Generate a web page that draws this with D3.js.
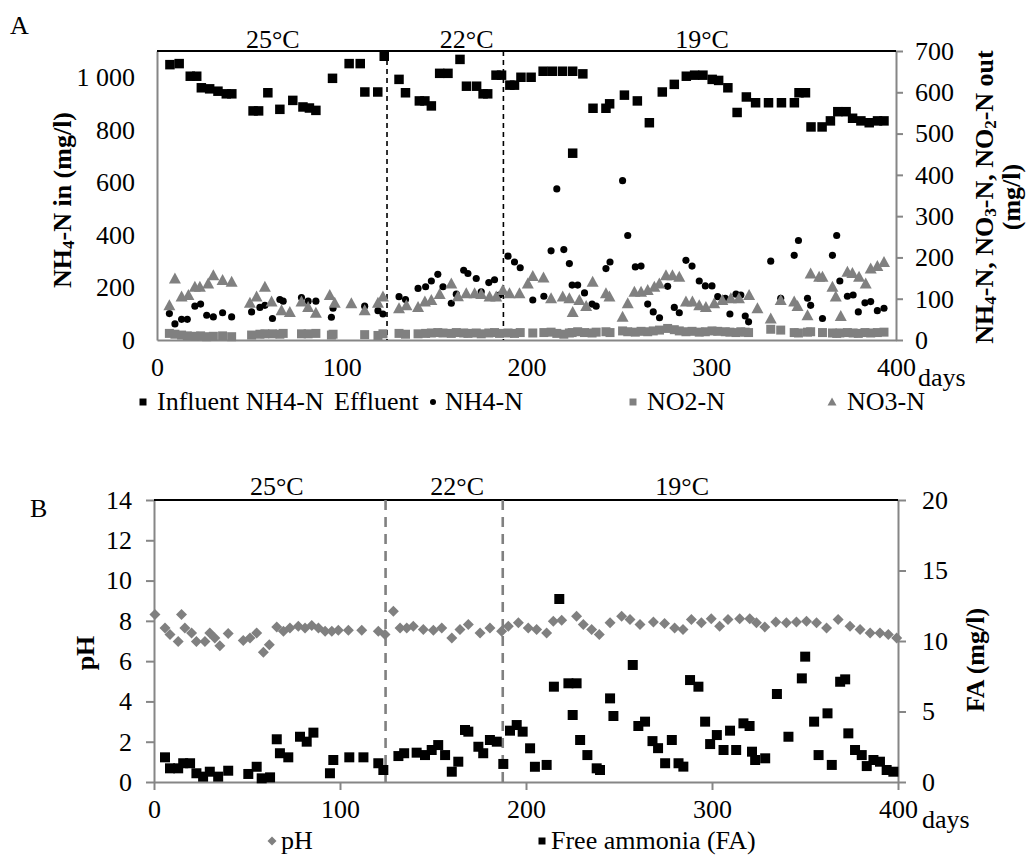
<!DOCTYPE html>
<html>
<head>
<meta charset="utf-8">
<script src="https://cdn.jsdelivr.net/npm/d3@7"></script>
<style>
  body { margin: 0; background: #fff; }
  text { font-family: "Liberation Serif", "Times New Roman", serif; fill: #000; }
</style>
</head>
<body>
<svg id="chart" width="1030" height="859"></svg>
<script>
// ---------- Panel A: nitrogen species (mg/l) ----------
const inflDays = [7,12,18,21.5,24,28.5,33,37.5,40.5,52,55,60,66.5,73.5,79,82.5,86,95,104,110,112.5,119.5,123,131,134.5,142,145,148.5,153,157.5,164,167.5,173,176.5,179,183.5,186.5,191,193.5,197,202.5,209,214,219.5,225,230.5,225,236,243,245,253,260,266.5,273.5,280,286.5,291,295.5,300.5,304,309,314,319,324,331,338,345,347.5,351,354,360,364.5,368.5,373,376.5,381,385.5,390,393.5];
const inflValues = [1048,1052,1004,1004,960,956,947,937,937,872,872,941,878,912,887,883,874,996,1052,1052,944,944,1080,992,941,910,910,891,1015,1015,1068,966,966,937,937,1008,1008,970,970,1000,1000,1023,1023,1023,1023,1013,711,882,882,899,932,910,827,944,973,1004,1008,1008,992,988,960,866,925,903,903,903,903,941,941,811,811,834,869,869,844,834,827,834,834];

const effDays = [6.7,9.7,13.3,16.4,20.5,23.6,26.9,30.5,35.5,40.4,51.2,55.7,58.4,62.5,66.5,68.3,78.2,81.8,86,94.4,95.3,112.4,119.6,122.3,131,134.5,141.3,145.4,148.5,152,154.8,159.3,162,166,168.3,172.8,175.5,179.6,182.7,185.4,190,193.5,196.6,203.4,209.4,213.3,216.4,220.2,223.2,224.7,227.7,231.4,235.5,237.7,243,245.2,252,254.8,258.9,262,265.6,268.6,272,276.4,280,282.7,286.3,289.6,293.5,296.8,300.4,303.5,307.6,310.1,313.4,316,318.4,320.2,332.2,337.6,344.9,347.2,352.1,353.8,360.2,365.6,367.9,369.6,373.7,376.8,379.6,383.2,386.3,389.9,393.5];
const effValues = [64,39,50,50,82,87,60,56,66,56,68,79,84,52,98,94,103,94,94,55,77,82,71,63,105,98,125,129,143,159,129,89,111,169,161,149,117,139,146,109,203,189,175,97,106,216,366,219,185,133,133,114,87,82,173,189,386,253,177,179,87,68,54,130,79,66,193,179,143,131,131,105,101,63,111,109,58,44,191,101,205,241,101,84,52,205,253,143,106,109,68,90,93,71,77];

// NO2-N sampled on the same days as the effluent NH4-N
const no2Values = [16,14,12,10,9,10,8,9,10,8,12,14,15,15,14,16,15,15,16,12,14,13,11,15,16,14,15,16,17,18,17,16,18,17,16,17,15,17,18,16,17,16,18,17,18,19,16,14,17,18,20,18,17,19,20,18,22,20,19,21,20,22,24,28,25,22,20,21,19,20,22,21,20,19,18,20,19,18,26,24,18,17,19,20,18,17,16,17,18,17,16,18,17,18,19];

const no3Days = [6.7,9.7,13.3,17,20.5,23.2,27.7,30.5,35.5,40.4,50.3,53.9,58.4,62,67.4,71.9,78.2,81.8,86,93.5,96.2,105.2,112.4,119.6,122.3,131,135,141.3,145,148.5,153,159.3,162.9,167.4,171.9,175.5,180,183.6,187.2,190.8,196.2,200.7,203.4,209.2,213.3,219.6,223.2,225,228.6,232.3,235.8,243,244.9,252,254.8,258.4,262,265.6,269.2,271.9,275.5,279,282.7,286.3,289.8,293.5,297.1,301.6,306,310.6,315,320.5,325,332.2,337.6,344.9,346.7,352.1,353.8,358.4,360.2,365.6,367.4,370.1,373.7,376.4,380,383.6,386.3,389.9,393.5];
const no3Values = [84,149,105,109,129,129,137,157,145,141,90,105,129,93,72,68,93,80,66,109,90,89,72,90,105,77,84,80,93,97,111,137,106,113,113,111,105,105,121,113,113,137,155,151,101,105,101,68,97,82,141,113,105,56,89,117,117,121,129,137,157,157,153,93,93,84,80,89,97,101,101,109,77,52,97,93,82,60,161,153,153,129,105,58,165,162,153,137,173,179,189];

// ---------- Panel B: pH and free ammonia ----------
const phDays = [0.5,5.9,8.6,13,14.8,16.6,20.2,22.8,27.4,30,32.7,35.4,39.9,48,51.6,55.2,58.8,62,66,69.6,73.1,77.6,81.2,84.8,88.4,92,95.6,99.1,104.5,111.7,120.6,124.2,128.7,132.3,135.9,139.4,144.8,150.2,154.7,160.1,164.5,169,175.3,180.6,186.9,190.5,195.9,201.2,205.7,211.1,214.7,219.2,227.2,230.8,235.3,239.4,245.2,251.4,255.9,261.3,268.5,274.5,279.9,284.4,288.9,294.3,299.6,304.1,308.6,314.9,320.3,323.9,328.4,334.3,340,345.4,350.8,356.2,361.6,367.8,374.2,379.6,385,390.3,394.8,399.3];
const phValues = [8.32,7.65,7.32,6.98,8.32,7.65,7.40,6.98,6.98,7.40,7.15,6.77,7.37,7.03,7.15,7.40,6.44,6.82,7.70,7.48,7.65,7.73,7.65,7.77,7.65,7.48,7.48,7.53,7.53,7.53,7.48,7.32,8.48,7.65,7.65,7.73,7.57,7.53,7.65,7.15,7.57,7.82,7.40,7.65,7.48,7.73,7.90,7.65,7.57,7.40,7.98,8.03,8.23,7.82,7.57,7.32,7.90,8.23,8.07,7.82,7.94,7.87,7.65,7.57,8.07,7.90,8.10,7.73,8.07,8.10,8.10,7.90,7.70,7.94,7.90,7.94,7.98,7.90,7.65,8.07,7.73,7.57,7.40,7.40,7.32,7.15];

const faDays = [5.9,8.6,13,15.7,19.4,22.8,26.4,30,34.5,39.9,50.7,55.2,57.9,62.4,66,67.7,72.2,78.5,82.1,85.7,94.6,96.4,105,112.6,120.6,123.3,131.4,134.5,141.2,145.7,149.3,152.8,156.5,160.1,163.6,167.2,169,174.4,177,180.6,184.3,187.8,191.4,195,198.2,202.2,204.8,211.1,215,217.9,222.8,225.1,227.2,229.1,233,238,239.8,245.2,247,257.4,260.4,264,268,271,274.8,278.4,282,284.6,288.2,292.7,296.3,299,302.6,306.2,309.7,313,316.9,320.2,321.5,323.2,328.6,334.9,341.1,348.3,350.1,354.9,357.3,362.1,364.4,368.9,371.6,373.3,376.9,380.5,383.2,386.8,390.3,393.9,397.5];
const faValues = [1.75,0.97,0.97,1.33,1.33,0.62,0.38,0.73,0.38,0.80,0.57,1.08,0.26,0.33,3.03,2.04,1.75,3.21,2.86,3.50,0.62,1.56,1.75,1.75,1.33,0.85,1.84,2.04,2.08,1.91,2.27,2.62,1.91,0.73,1.44,3.69,3.57,2.50,2.04,2.98,2.86,1.28,3.64,4.04,3.57,2.39,1.08,1.21,6.76,12.98,7.0,4.75,7.0,2.98,1.91,0.97,0.85,5.93,4.68,8.30,3.97,4.28,2.9,2.4,1.33,2.98,1.33,1.09,7.23,6.76,4.28,2.69,3.33,2.27,3.64,2.27,4.16,3.97,2.15,1.56,1.68,6.24,3.21,7.35,8.89,4.28,1.91,4.87,1.21,7.11,7.28,3.45,2.27,1.91,1.13,1.56,1.44,0.85,0.73];

// Temperature periods (change days) and labels
const tempChangeDays = [124.5, 187.5];
const tempLabels = ["25°C", "22°C", "19°C"];

// Axis ticks
const dayTicks = [0, 100, 200, 300, 400];
const inTicks = [0, 200, 400, 600, 800, 1000];
const outTicks = [0, 100, 200, 300, 400, 500, 600, 700];
const phTicks = [0, 2, 4, 6, 8, 10, 12, 14];
const faTicks = [0, 5, 10, 15, 20];

// ---------- drawing ----------
const GRAY = "#808080";
const AXIS = "#868686";
const FS = 26;
const svg = d3.select("#chart");

const pairs = (xs, ys) => xs.map((d, i) => [d, ys[i]]);
const spaceFmt = d3.formatLocale({decimal: ".", thousands: "\u00a0", grouping: [3], currency: ["", ""]}).format(",");

function styleAxis(g) {
  g.attr("font-size", FS).attr("font-family", null);
  g.select(".domain").attr("stroke", AXIS).attr("stroke-width", 2);
  g.selectAll(".tick line").attr("stroke", AXIS).attr("stroke-width", 2);
  g.selectAll(".tick text").attr("fill", "#000");
}

function richText(parent, x, y, parts, opts = {}) {
  const t = parent.append("text")
    .attr("font-size", FS)
    .attr("font-weight", opts.bold ? "bold" : null)
    .attr("text-anchor", opts.anchor || "start")
    .attr("transform", `translate(${x},${y})` + (opts.rotate ? ` rotate(${opts.rotate})` : ""));
  if (opts.central) t.attr("dominant-baseline", "central");
  let shifted = false;
  parts.forEach(([s, sub]) => {
    const sp = t.append("tspan").text(s);
    if (sub) { sp.attr("font-size", 17).attr("dy", 6); shifted = true; }
    else if (shifted) { sp.attr("dy", -6); shifted = false; }
  });
  return t;
}

const squarePath = s => `M${-s/2},${-s/2}h${s}v${s}h${-s}Z`;
const diamondPath = (w, h) => `M0,${-h}L${w},0L0,${h}L${-w},0Z`;
const trianglePath = (w, h) => `M0,${-h*0.55}L${w/2},${h*0.45}L${-w/2},${h*0.45}Z`;

function drawMarks(g, data, x, y, path, fill) {
  g.append("g").selectAll("path").data(data).join("path")
    .attr("d", path)
    .attr("transform", d => `translate(${x(d[0])},${y(d[1])})`)
    .attr("fill", fill);
}

// ===== Panel A =====
const A = {left: 157, right: 896, top: 51, bottom: 340};
const xA = d3.scaleLinear().domain([0, 400]).range([A.left, A.right]);
const yAL = d3.scaleLinear().domain([0, 1100]).range([A.bottom, A.top]);
const yAR = d3.scaleLinear().domain([0, 700]).range([A.bottom, A.top]);
const gA = svg.append("g");

gA.append("g").attr("transform", `translate(${A.left},0)`)
  .call(d3.axisLeft(yAL).tickValues(inTicks).tickSize(0).tickPadding(22).tickFormat(spaceFmt))
  .call(styleAxis);
gA.append("g").attr("transform", `translate(${A.right},0)`)
  .call(d3.axisRight(yAR).tickValues(outTicks).tickSize(7).tickSizeOuter(0).tickPadding(12))
  .call(styleAxis);
gA.append("g").attr("transform", `translate(0,${A.bottom})`)
  .call(d3.axisBottom(xA).tickValues(dayTicks).tickSize(0).tickPadding(18))
  .call(styleAxis);
gA.append("line").attr("x1", A.left).attr("x2", A.right).attr("y1", A.top).attr("y2", A.top)
  .attr("stroke", "#000").attr("stroke-width", 2);

gA.selectAll(".tchg").data(tempChangeDays).join("line")
  .attr("x1", d => xA(d)).attr("x2", d => xA(d)).attr("y1", A.top).attr("y2", A.bottom)
  .attr("stroke", "#000").attr("stroke-width", 1.6).attr("stroke-dasharray", "5,4");

const labelDaysA = [62.7, 167.6, 295];
gA.selectAll(".tl").data(tempLabels).join("text")
  .attr("x", (d, i) => xA(labelDaysA[i])).attr("y", 48)
  .attr("text-anchor", "middle").attr("font-size", FS).text(d => d);

drawMarks(gA, pairs(inflDays, inflValues), xA, yAL, squarePath(9.5), "#000");
drawMarks(gA, pairs(effDays, effValues), xA, yAR, d3.symbol(d3.symbolCircle, 40)(), "#000");
drawMarks(gA, pairs(effDays, no2Values), xA, yAR, squarePath(9), GRAY);
drawMarks(gA, pairs(no3Days, no3Values), xA, yAR, trianglePath(12, 11), GRAY);

// axis titles
richText(gA, 62, 200, [["NH"], ["4", true], ["-N in (mg/l)"]], {bold: true, anchor: "middle", rotate: -90, central: true});
richText(gA, 984, 197, [["NH"], ["4", true], ["-N, NO"], ["3", true], ["-N, NO"], ["2", true], ["-N out"]], {bold: true, anchor: "middle", rotate: -90, central: true});
richText(gA, 1011, 197, [["(mg/l)"]], {bold: true, anchor: "middle", rotate: -90, central: true});

gA.append("text").attr("x", 10).attr("y", 34).attr("font-size", FS).text("A");
gA.append("text").attr("x", 918).attr("y", 386).attr("font-size", FS).text("days");

// legend A
const legA = gA.append("g");
const lyA = 402;
legA.append("path").attr("d", squarePath(7)).attr("transform", `translate(143,${lyA})`).attr("fill", "#000");
legA.append("text").attr("x", 157).attr("y", lyA + 8).attr("font-size", FS).text("Influent NH4-N");
legA.append("text").attr("x", 334).attr("y", lyA + 8).attr("font-size", FS).text("Effluent");
legA.append("circle").attr("cx", 433).attr("cy", lyA).attr("r", 3).attr("fill", "#000");
legA.append("text").attr("x", 445).attr("y", lyA + 8).attr("font-size", FS).text("NH4-N");
legA.append("path").attr("d", squarePath(7)).attr("transform", `translate(633,${lyA})`).attr("fill", GRAY);
legA.append("text").attr("x", 647).attr("y", lyA + 8).attr("font-size", FS).text("NO2-N");
legA.append("path").attr("d", trianglePath(9, 8)).attr("transform", `translate(832,${lyA})`).attr("fill", GRAY);
legA.append("text").attr("x", 847).attr("y", lyA + 8).attr("font-size", FS).text("NO3-N");

// ===== Panel B =====
const B = {left: 154, right: 898, top: 500, bottom: 782};
const xB = d3.scaleLinear().domain([0, 400]).range([B.left, B.right]);
const yPH = d3.scaleLinear().domain([0, 14]).range([B.bottom, B.top]);
const yFA = d3.scaleLinear().domain([0, 20]).range([B.bottom, B.top]);
const gB = svg.append("g");

gB.append("g").attr("transform", `translate(${B.left},0)`)
  .call(d3.axisLeft(yPH).tickValues(phTicks).tickSize(8).tickSizeOuter(0).tickPadding(14))
  .call(styleAxis);
gB.append("g").attr("transform", `translate(${B.right},0)`)
  .call(d3.axisRight(yFA).tickValues(faTicks).tickSize(8).tickSizeOuter(0).tickPadding(16))
  .call(styleAxis);
gB.append("g").attr("transform", `translate(0,${B.bottom})`)
  .call(d3.axisBottom(xB).tickValues(dayTicks).tickSize(8).tickSizeOuter(0).tickPadding(10))
  .call(styleAxis);
gB.append("line").attr("x1", B.left).attr("x2", B.right).attr("y1", B.top).attr("y2", B.top)
  .attr("stroke", "#000").attr("stroke-width", 2);

gB.selectAll(".tchg").data(tempChangeDays).join("line")
  .attr("x1", d => xB(d)).attr("x2", d => xB(d)).attr("y1", B.top).attr("y2", B.bottom)
  .attr("stroke", GRAY).attr("stroke-width", 2.6).attr("stroke-dasharray", "10,7");

const labelDaysB = [66, 163, 284];
gB.selectAll(".tl").data(tempLabels).join("text")
  .attr("x", (d, i) => xB(labelDaysB[i])).attr("y", 495)
  .attr("text-anchor", "middle").attr("font-size", FS).text(d => d);

drawMarks(gB, pairs(phDays, phValues), xB, yPH, diamondPath(5.5, 5.5), GRAY);
drawMarks(gB, pairs(faDays, faValues), xB, yFA, squarePath(10), "#000");

richText(gB, 85, 653, [["pH"]], {bold: true, anchor: "middle", rotate: -90, central: true});
richText(gB, 975, 660, [["FA (mg/l)"]], {bold: true, anchor: "middle", rotate: -90, central: true});

gB.append("text").attr("x", 30).attr("y", 517).attr("font-size", FS).text("B");
gB.append("text").attr("x", 922).attr("y", 828).attr("font-size", FS).text("days");

// legend B
const legB = gB.append("g");
const lyB = 841;
legB.append("path").attr("d", diamondPath(4.5, 4.5)).attr("transform", `translate(272,${lyB})`).attr("fill", GRAY);
legB.append("text").attr("x", 281).attr("y", lyB + 8).attr("font-size", FS).text("pH");
legB.append("path").attr("d", squarePath(7)).attr("transform", `translate(542,${lyB})`).attr("fill", "#000");
legB.append("text").attr("x", 551).attr("y", lyB + 8).attr("font-size", FS).text("Free ammonia (FA)");
</script>
</body>
</html>
